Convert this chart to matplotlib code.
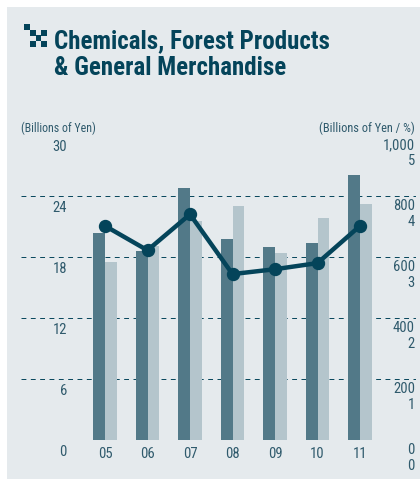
import matplotlib
matplotlib.use("Agg")
import matplotlib.pyplot as plt
from matplotlib.patches import Rectangle
import numpy as np

W, H = 420, 479

years = ['05', '06', '07', '08', '09', '10', '11']
dark_vals = [20.4, 18.6, 24.8, 19.8, 19.0, 19.4, 26.1]
light_vals = [17.5, 19.1, 21.5, 23.0, 18.4, 21.8, 23.2]
pct_vals = [3.51, 3.11, 3.70, 2.72, 2.80, 2.90, 3.51]
left_ticks = [0, 6, 12, 18, 24, 30]
right_top = ['0', '200', '400', '600', '800', '1,000']
right_low = ['0', '1', '2', '3', '4', '5']
icon_squares = [(24, 24, 6, 6), (30, 30, 6, 6), (41, 30, 6, 6), (36, 35, 5, 6), (30, 41, 6, 6), (41, 41, 6, 6)]

BG = '#e5eaed'
DARK = '#04445a'
BAR1 = '#527988'
BAR2 = '#b4c5cc'
TXT = '#2f5a6c'

plt.rcParams['font.family'] = ['Roboto Condensed', 'Liberation Sans', 'DejaVu Sans']

fig = plt.figure(figsize=(W / 100, H / 100), dpi=100, facecolor='white')
# grey panel behind everything
fig.patches.append(Rectangle((7 / W, 0.5 / H), (W - 7) / W, (H - 7.5) / H,
                             transform=fig.transFigure, fc=BG, ec='none', zorder=-5))
# little checker icon left of the title
for px, py, pw, ph in icon_squares:
    fig.patches.append(Rectangle((px / W, 1 - (py + ph) / H), pw / W, ph / H,
                                 transform=fig.transFigure, fc=DARK, ec='none'))

# axes: x 21..416 px, y 440..135 px
ax = fig.add_axes([21 / W, (H - 440) / H, 395 / W, 305 / H], facecolor='none')
ax2 = ax.twinx()
ax2.set_facecolor('none')

x = np.arange(len(years))
ax.set_xlim((21 - 105) / 42.5, (416 - 105) / 42.5)
ax.set_ylim(0, 30)
ax2.set_ylim(0, 5)

for v in [6, 12, 18, 24]:
    ax.axhline(v, color=DARK, lw=0.7, dashes=(5, 4.6), zorder=1)

w = 0.275
ax.bar(x - w / 2, dark_vals, w, color=BAR1, zorder=2)
ax.bar(x + w / 2, light_vals, w, color=BAR2, zorder=2)
ax2.plot(x, pct_vals, color=DARK, lw=3.2, marker='o', ms=8.6, zorder=5)

for a in (ax, ax2):
    for s in a.spines.values():
        s.set_visible(False)
    a.set_yticks([])
ax.set_xticks(x, years)
ax.tick_params(axis='x', length=0, pad=5, labelsize=10.5, labelcolor=TXT)

# value labels sit under the dashed lines
for v in left_ticks:
    ax.annotate(str(v), (21, v), xycoords=('figure pixels', 'data'), xytext=(46 * 0.72, -12 * 0.72),
                textcoords='offset points', ha='right', va='center', fontsize=10.5, color=TXT)
for i in range(6):
    ax2.annotate(right_top[i], (415, i), xycoords=('figure pixels', 'data'), xytext=(0, -10 * 0.72),
                 textcoords='offset points', ha='right', va='center', fontsize=10.5, color=TXT)
    ax2.annotate(right_low[i], (415, i), xycoords=('figure pixels', 'data'), xytext=(0, -26 * 0.72),
                 textcoords='offset points', ha='right', va='center', fontsize=10.5, color=TXT)

fig.text(21 / W, 1 - 128 / H, '(Billions of Yen)', fontsize=8.6, color=TXT, ha='left', va='center')
fig.text(415 / W, 1 - 128 / H, '(Billions of Yen / %)', fontsize=8.9, color=TXT, ha='right', va='center')

fig.text(54 / W, 1 - 41 / H, 'Chemicals, Forest Products', fontsize=18, fontweight='bold',
         color=DARK, ha='left', va='center')
fig.text(54 / W, 1 - 68 / H, '& General Merchandise', fontsize=18, fontweight='bold',
         color=DARK, ha='left', va='center')

fig.savefig('out.png', dpi=100, facecolor='white')
